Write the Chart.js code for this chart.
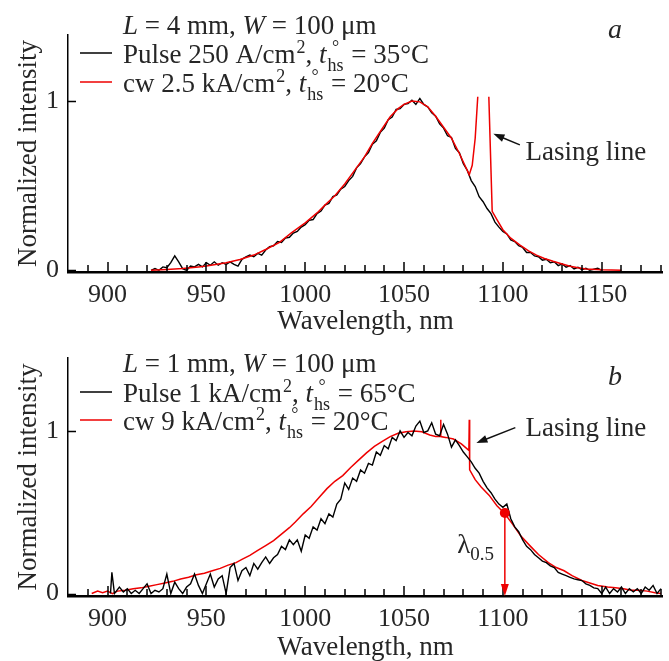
<!DOCTYPE html>
<html>
<head>
<meta charset="utf-8">
<script src="https://cdn.jsdelivr.net/npm/chart.js@4.4.1/dist/chart.umd.min.js"></script>
<style>
html,body{margin:0;padding:0;background:#fff;overflow:hidden;width:669px;height:661px;position:relative}
#wa{position:absolute;left:0;top:0;width:669px;height:345px}
#wb{position:absolute;left:0;top:330px;width:669px;height:341px}
canvas{display:block}
</style>
</head>
<body>
<div id="wa"><canvas id="ca" width="669" height="345"></canvas></div>
<div id="wb"><canvas id="cb" width="669" height="341"></canvas></div>
<script>
// ---------------- DATA ----------------
const xTickValues = [890,900,910,920,930,940,950,960,970,980,990,1000,1010,1020,1030,1040,1050,1060,1070,1080,1090,1100,1110,1120,1130,1140,1150,1160,1170,1180];
const xLabelValues = [900,950,1000,1050,1100,1150];
const yTickValues = [0,1];

// Panel a: L = 4 mm, pulse (black)
const aPulseNm = [922,924,926,928,930,932,934,936,938,940,942,944,946,948,950,952,954,956,958,960,962,964,966,968,970,972,974,976,978,980,982,984,986,988,990,992,994,996,998,1000,1002,1004,1006,1008,1010,1012,1014,1016,1018,1020,1022,1024,1026,1028,1030,1032,1034,1036,1038,1040,1042,1044,1046,1048,1050,1052,1054,1056,1058,1060,1062,1064,1066,1068,1070,1072,1074,1076,1078,1080,1082,1084,1086,1088,1090,1092,1094,1096,1098,1100,1102,1104,1106,1108,1110,1112,1114,1116,1118,1120,1122,1124,1126,1128,1130,1132,1134,1136,1138,1140,1142,1144,1146,1148,1150];
const aPulseVal = [0.0,0.01,0.0,0.02,0.015,0.045,0.085,0.05,0.01,0.0,0.025,0.02,0.035,0.02,0.045,0.03,0.05,0.03,0.045,0.035,0.05,0.035,0.025,0.065,0.08,0.09,0.08,0.1,0.09,0.12,0.14,0.145,0.17,0.165,0.19,0.195,0.22,0.23,0.255,0.27,0.295,0.3,0.335,0.35,0.385,0.395,0.435,0.445,0.48,0.495,0.53,0.555,0.605,0.63,0.67,0.695,0.745,0.765,0.815,0.84,0.89,0.905,0.95,0.955,0.98,0.985,1.005,0.98,1.015,0.98,0.965,0.93,0.91,0.865,0.84,0.795,0.785,0.72,0.695,0.63,0.59,0.53,0.495,0.435,0.405,0.365,0.335,0.285,0.255,0.23,0.215,0.18,0.17,0.145,0.135,0.105,0.105,0.085,0.08,0.06,0.065,0.045,0.05,0.028,0.038,0.018,0.028,0.008,0.018,0.004,0.012,0.0,0.006,0.012,0.0];

// Panel a: cw (red) with lasing line (clipped in the figure -> gap)
const aCwNm  = [922,930,938,946,950,960,967,974,980,987,993,1000,1006,1010,1015,1020,1025,1030,1034,1038,1043,1047,1050,1054,1058,1062,1066,1070,1074,1078,1081,1083,1084.5,1086,1087.3,1090,1092.9,1094.6,1097,1100,1104,1108.5,1113,1117,1121,1125.4,1130,1134,1138,1142,1150,1160];
const aCwVal = [0.0,0.005,0.01,0.02,0.025,0.045,0.064,0.09,0.123,0.165,0.221,0.28,0.339,0.385,0.44,0.51,0.59,0.67,0.75,0.82,0.907,0.955,0.98,1.0,0.995,0.966,0.91,0.845,0.78,0.69,0.615,0.565,0.62,0.78,1.025,null,1.025,0.348,0.3,0.24,0.19,0.15,0.115,0.09,0.07,0.053,0.037,0.024,0.015,0.008,0.003,0.0];

// Panel b: L = 1 mm, pulse (black)
const bPulseNm = [901.5,902.2,903.5,906,908,910,912,914,916,918,920,922,924,926,928,930,932,934,936,938,940,942,944,946,948,950,952,954,956,958,960,962,964,966,968,970,972,974,976,978,980,982,984,986,988,990,992,994,996,998,1000,1002,1004,1006,1008,1010,1012,1014,1016,1018,1020,1022,1024,1026,1028,1030,1032,1034,1036,1038,1040,1042,1044,1046,1048,1050,1052,1054,1056,1058,1060,1062,1064,1066,1068,1070,1072,1074,1076,1078,1080,1082,1084,1086,1088,1090,1092,1094,1096,1098,1100,1102,1104,1106,1108,1110,1112,1114,1116,1118,1120,1122,1124,1126,1128,1130,1132,1134,1136,1138,1140,1142,1144,1146,1148,1150,1152,1154,1156,1158,1160,1162,1164,1166,1168,1170,1172,1174,1176,1178,1180];
const bPulseVal = [0.0,0.13,0.0,0.04,0.01,0.03,0.0,0.02,0.0,0.03,0.06,0.0,0.02,0.01,0.03,0.12,0.0,0.07,0.03,0.0,0.04,0.06,0.12,0.05,0.0,0.06,0.12,0.04,0.09,0.11,0.0,0.16,0.185,0.08,0.14,0.16,0.11,0.185,0.15,0.19,0.225,0.185,0.22,0.24,0.29,0.27,0.33,0.3,0.33,0.26,0.36,0.34,0.41,0.39,0.46,0.43,0.49,0.47,0.55,0.58,0.68,0.64,0.71,0.69,0.76,0.74,0.8,0.79,0.87,0.85,0.91,0.89,0.96,0.94,1.0,0.96,0.99,0.97,1.03,1.06,0.99,1.0,1.05,0.98,0.97,1.04,0.98,0.9,0.945,0.91,0.87,0.84,0.81,0.77,0.74,0.69,0.65,0.62,0.58,0.55,0.53,0.55,0.46,0.41,0.38,0.33,0.29,0.27,0.24,0.22,0.2,0.19,0.17,0.16,0.13,0.12,0.11,0.1,0.09,0.085,0.08,0.06,0.05,0.035,0.03,0.0,0.04,0.0,0.03,0.01,0.04,0.0,0.03,0.01,0.03,0.0,0.04,0.02,0.05,0.0,0.03];

// Panel b: cw (red) with two lasing lines
const bCwNm  = [892,895,897.5,900,902.5,905,909,913,917,921,925,929,933,937,941,945,949,953,957,961,965,968,972,976,980,984,988,992,995,999,1003,1007,1011,1015,1019,1023,1027,1031,1035,1039,1043,1047,1051,1055,1059,1063,1066,1068.3,1068.5,1068.7,1071,1075,1079,1082.8,1083,1083.2,1086,1089,1093,1097,1101,1105,1109,1114,1118,1123,1127,1131,1135,1140,1144,1148,1153,1157,1161,1165,1169,1173,1177,1180];
const bCwVal = [0.0,0.015,0.005,0.015,0.0,0.015,0.02,0.03,0.035,0.045,0.055,0.065,0.075,0.09,0.1,0.115,0.125,0.14,0.155,0.175,0.19,0.21,0.235,0.265,0.295,0.325,0.365,0.405,0.44,0.49,0.535,0.59,0.645,0.69,0.725,0.775,0.82,0.865,0.905,0.935,0.965,0.985,0.995,1.0,0.995,0.975,0.965,0.965,1.068,0.965,0.96,0.95,0.92,0.88,1.068,0.76,0.7,0.655,0.605,0.54,0.49,0.425,0.355,0.29,0.24,0.19,0.16,0.14,0.11,0.08,0.065,0.05,0.04,0.035,0.03,0.02,0.02,0.015,0.005,0.0];

// Legend texts (rich-text fragments)
const aHeader = [['L','i'],[' = 4 mm, ','n'],['W','i'],[' = 100 \u03BCm','n']];
const aPulseLabel = [['Pulse 250 A/cm','n'],['2','sup'],[', ','n'],['t','i'],['hs','degsub'],[' = 35\u00B0C','n']];
const aCwLabel = [['cw 2.5 kA/cm','n'],['2','sup'],[', ','n'],['t','i'],['hs','degsub'],[' = 20\u00B0C','n']];
const bHeader = [['L','i'],[' = 1 mm, ','n'],['W','i'],[' = 100 \u03BCm','n']];
const bPulseLabel = [['Pulse 1 kA/cm','n'],['2','sup'],[', ','n'],['t','i'],['hs','degsub'],[' = 65\u00B0C','n']];
const bCwLabel = [['cw 9 kA/cm','n'],['2','sup'],[', ','n'],['t','i'],['hs','degsub'],[' = 20\u00B0C','n']];

// Annotation anchors in data coordinates
const aLasingArrow = {head:[1095.2,0.806], tail:[1108.6,0.741], text:[1111.5,0.652]};
const bLasingArrow = {head:[1086.6,0.926], tail:[1106.3,1.02], text:[1111.5,0.971]};
const bLambdaHalf = {x:1101, y:0.495, labelX:1076.9, labelY:0.248};

// ---------------- DRAWING ----------------
const FONT = '"Liberation Serif", "Times New Roman", serif';
const TXT = '#262626';
const RED = '#ee0000';
Chart.defaults.font.family = FONT;

function pts(xs, ys){ return xs.map((x,i)=>({x:x, y:ys[i]})); }

function rich(ctx, x, y, parts, size){
  const small = Math.round(size*0.68);
  for (const [t,k] of parts){
    if (k==='n' || k==='i'){
      ctx.font = (k==='i'?'italic ':'') + size + 'px ' + FONT;
      ctx.fillText(t, x, y);
      x += ctx.measureText(t).width;
    } else if (k==='sup'){
      ctx.font = small + 'px ' + FONT;
      ctx.fillText(t, x+1, y - size*0.36);
      x += ctx.measureText(t).width + 1;
    } else if (k==='degsub'){
      ctx.font = small + 'px ' + FONT;
      const w = ctx.measureText(t).width;
      ctx.fillText(t, x+1, y + size*0.3);
      const dw = ctx.measureText('\u00B0').width;
      ctx.fillText('\u00B0', x + 1 + (w-dw)/2, y - size*0.36);
      x += w + 2;
    }
  }
  return x;
}

function arrow(ctx, x0, y0, x1, y1, color, hl, hw){
  const ang = Math.atan2(y1-y0, x1-x0);
  ctx.strokeStyle = color; ctx.fillStyle = color; ctx.lineWidth = 1.5;
  ctx.beginPath();
  ctx.moveTo(x0, y0);
  ctx.lineTo(x1 - Math.cos(ang)*hl*0.8, y1 - Math.sin(ang)*hl*0.8);
  ctx.stroke();
  ctx.beginPath();
  ctx.moveTo(x1, y1);
  ctx.lineTo(x1 - Math.cos(ang)*hl + Math.sin(ang)*hw, y1 - Math.sin(ang)*hl - Math.cos(ang)*hw);
  ctx.lineTo(x1 - Math.cos(ang)*hl - Math.sin(ang)*hw, y1 - Math.sin(ang)*hl + Math.cos(ang)*hw);
  ctx.closePath();
  ctx.fill();
}

const decor = {
  id: 'decor',
  afterDraw(chart, args, o){
    const ctx = chart.ctx, xs = chart.scales.x, ys = chart.scales.y;
    ctx.save();
    // tick marks (pointing inward)
    ctx.strokeStyle = '#000'; ctx.lineWidth = 1.5;
    ctx.beginPath();
    xs.ticks.forEach(t => {
      const px = Math.round(xs.getPixelForValue(t.value));
      const len = xLabelValues.includes(t.value) ? 10 : 7;
      ctx.moveTo(px, xs.top); ctx.lineTo(px, xs.top - len);
    });
    ys.ticks.forEach(t => {
      const py = Math.round(ys.getPixelForValue(t.value)) + 0.5;
      ctx.moveTo(ys.right, py); ctx.lineTo(ys.right + 8, py);
    });
    ctx.stroke();

    // legend
    const L = o.legend;
    ctx.fillStyle = TXT; ctx.textBaseline = 'alphabetic'; ctx.textAlign = 'left';
    rich(ctx, L.x, L.base[0], L.header, 27);
    L.rows.forEach((r, i) => {
      const b = L.base[i+1];
      ctx.strokeStyle = r.color; ctx.lineWidth = 1.5;
      ctx.beginPath(); ctx.moveTo(L.lx0, b - 10); ctx.lineTo(L.lx1, b - 10); ctx.stroke();
      ctx.fillStyle = TXT;
      rich(ctx, L.x, b, r.parts, 27);
    });

    // panel letter
    ctx.fillStyle = TXT;
    ctx.font = 'italic 28px ' + FONT;
    ctx.fillText(o.letter.t, o.letter.x, o.letter.y);

    // lasing line arrow + text
    const A = o.lasing;
    const hx = xs.getPixelForValue(A.head[0]), hy = ys.getPixelForValue(A.head[1]);
    const tx = xs.getPixelForValue(A.tail[0]), ty = ys.getPixelForValue(A.tail[1]);
    arrow(ctx, tx, ty, hx, hy, '#111', 11, 4);
    ctx.fillStyle = TXT;
    ctx.font = '27px ' + FONT;
    ctx.fillText('Lasing line', xs.getPixelForValue(A.text[0]), ys.getPixelForValue(A.text[1]));

    // lambda 0.5 marker
    if (o.lambda){
      const M = o.lambda;
      const mx = xs.getPixelForValue(M.x), my = ys.getPixelForValue(M.y);
      arrow(ctx, mx, my, mx, xs.top, RED, 12, 4);
      ctx.fillStyle = RED;
      ctx.beginPath(); ctx.arc(mx, my, 5, 0, Math.PI*2); ctx.fill();
      ctx.fillStyle = TXT;
      const lx = xs.getPixelForValue(M.labelX), ly = ys.getPixelForValue(M.labelY);
      ctx.font = '27px ' + FONT;
      ctx.fillText('\u03BB', lx, ly);
      const w = ctx.measureText('\u03BB').width;
      ctx.font = '19px ' + FONT;
      ctx.fillText('0.5', lx + w, ly + 7);
    }
    ctx.restore();
  }
};

function makeChart(id, p){
  return new Chart(document.getElementById(id), {
    type: 'line',
    data: { datasets: p.datasets },
    plugins: [decor],
    options: {
      responsive: false, animation: false, devicePixelRatio: 1,
      layout: { padding: { top: p.areaTop, left: 0, right: 0, bottom: 0 } },
      plugins: { legend: { display: false }, tooltip: { enabled: false }, decor: p.decor },
      elements: { point: { radius: 0 }, line: { borderWidth: 1.5, tension: 0 } },
      spanGaps: false,
      scales: {
        x: {
          type: 'linear', min: 880, max: 1181,
          afterBuildTicks: s => { s.ticks = xTickValues.map(v => ({value: v})); },
          afterFit: s => { s.height = p.xHeight; },
          grid: { display: false, drawTicks: false },
          border: { display: true, color: '#000', width: 2.5 },
          ticks: { autoSkip: false, maxRotation: 0, minRotation: 0, padding: 8, color: TXT,
                   font: { family: FONT, size: 26 },
                   callback: v => xLabelValues.includes(v) ? String(v) : '' },
          title: { display: true, text: 'Wavelength, nm', color: TXT,
                   font: { family: FONT, size: 27, lineHeight: 1.2 }, padding: { top: 0, bottom: 7 } }
        },
        y: {
          type: 'linear', min: p.yMin, max: p.yMax,
          afterBuildTicks: s => { s.ticks = yTickValues.map(v => ({value: v})); },
          afterFit: s => { s.width = 68; },
          grid: { display: false, drawTicks: false },
          border: { display: true, color: '#000', width: 1.5 },
          ticks: { padding: 9, color: TXT, font: { family: FONT, size: 26 } },
          title: { display: true, text: 'Normalized intensity', color: TXT,
                   font: { family: FONT, size: 27, lineHeight: 1.2 }, padding: { top: 13, bottom: 0 } }
        }
      }
    }
  });
}

makeChart('ca', {
  areaTop: 35, xHeight: 73, yMin: -0.01, yMax: 1.39,
  datasets: [
    { label: 'cw', data: pts(aCwNm, aCwVal), borderColor: RED, borderWidth: 1.5, order: 0, spanGaps: false },
    { label: 'pulse', data: pts(aPulseNm, aPulseVal), borderColor: '#000', borderWidth: 1.4, order: 1 }
  ],
  decor: {
    legend: { x: 123, lx0: 80, lx1: 112, base: [34, 63, 92], header: aHeader,
              rows: [ {color: '#000', parts: aPulseLabel}, {color: RED, parts: aCwLabel} ] },
    letter: { t: 'a', x: 608, y: 38 },
    lasing: aLasingArrow
  }
});

makeChart('cb', {
  areaTop: 28, xHeight: 75, yMin: -0.015, yMax: 1.448,
  datasets: [
    { label: 'pulse', data: pts(bPulseNm, bPulseVal), borderColor: '#000', borderWidth: 1.4, order: 0 },
    { label: 'cw', data: pts(bCwNm, bCwVal), borderColor: RED, borderWidth: 1.5, order: 1 }
  ],
  decor: {
    legend: { x: 123, lx0: 80, lx1: 112, base: [42, 72, 100], header: bHeader,
              rows: [ {color: '#000', parts: bPulseLabel}, {color: RED, parts: bCwLabel} ] },
    letter: { t: 'b', x: 608, y: 55 },
    lasing: bLasingArrow,
    lambda: bLambdaHalf
  }
});
</script>
</body>
</html>
